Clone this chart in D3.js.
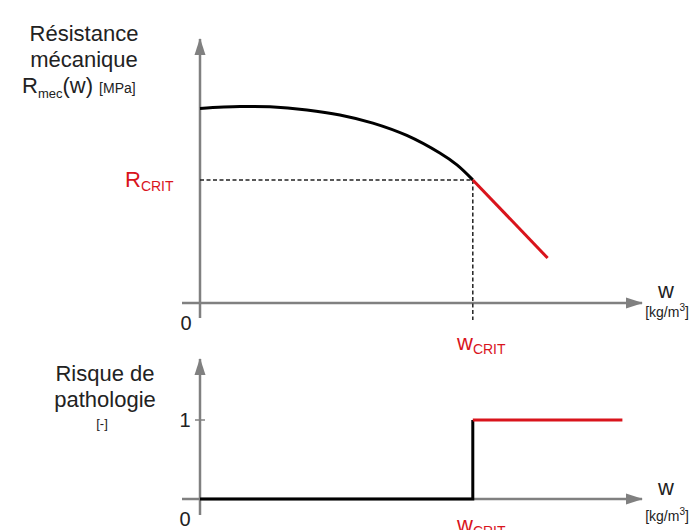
<!DOCTYPE html>
<html>
<head>
<meta charset="utf-8">
<script src="https://cdn.jsdelivr.net/npm/d3@7"></script>
<style>
  body { margin: 0; background: #fff; }
  svg text { font-family: "Liberation Sans", Arial, sans-serif; }
</style>
</head>
<body>
<script>
// values (w and R in arbitrary units)
var curveW = [0, 0.91, 1.59, 2.43, 3.18, 3.93, 4.70, 5.45, 5.84, 6.2]
var curveR = [7.40, 7.47, 7.46, 7.34, 7.15, 6.84, 6.37, 5.70, 5.25, 4.68]
var redW = [6.2, 7.9]
var redR = [4.68, 1.71]
var wCrit = 6.2
var rCrit = 4.68
var riskW = [0, 6.2, 6.2, 9.6]
var riskY = [0, 0, 1, 1]

var width = 697, height = 530
var grey = "#808080", red = "#d9141c", ink = "#222"

var svg = d3.select("body").append("svg")
    .attr("width", width)
    .attr("height", height)

var defs = svg.append("defs")
defs.append("marker")
    .attr("id", "arrow")
    .attr("viewBox", "0 0 17 12")
    .attr("refX", 16).attr("refY", 6)
    .attr("markerWidth", 17).attr("markerHeight", 12)
    .attr("markerUnits", "userSpaceOnUse")
    .attr("orient", "auto")
  .append("path")
    .attr("d", "M0,0.5 L17,6 L0,11.5 Z")
    .attr("fill", grey)

// x scale shared by both panels
var x = d3.scaleLinear().domain([0, 10]).range([200, 640])
var yTop = d3.scaleLinear().domain([0, 10]).range([303, 40])
var yBot = d3.scaleLinear().domain([0, 1]).range([499, 420])

function axes(y0, yTip, yLow) {
    svg.append("line")
        .attr("x1", 182).attr("y1", y0)
        .attr("x2", 642).attr("y2", y0)
        .attr("stroke", grey).attr("stroke-width", 2.5)
        .attr("marker-end", "url(#arrow)")
    svg.append("line")
        .attr("x1", x(0)).attr("y1", yLow)
        .attr("x2", x(0)).attr("y2", yTip)
        .attr("stroke", grey).attr("stroke-width", 2.5)
        .attr("marker-end", "url(#arrow)")
}

// ===== top panel =====
axes(yTop(0), 39, 318)

// dashed guides
svg.append("line")
    .attr("x1", x(0)).attr("y1", yTop(rCrit))
    .attr("x2", x(wCrit)).attr("y2", yTop(rCrit))
    .attr("stroke", "#222").attr("stroke-width", 1.5)
    .attr("stroke-dasharray", "4,2.5")
svg.append("line")
    .attr("x1", x(wCrit)).attr("y1", yTop(rCrit))
    .attr("x2", x(wCrit)).attr("y2", 320)
    .attr("stroke", "#222").attr("stroke-width", 1.5)
    .attr("stroke-dasharray", "4,2.5")

var line = d3.line()
    .x(function(d) { return x(d[0]) })
    .y(function(d) { return yTop(d[1]) })
    .curve(d3.curveCatmullRom.alpha(0.5))

svg.append("path")
    .attr("d", line(d3.zip(curveW, curveR)))
    .attr("fill", "none")
    .attr("stroke", "#000")
    .attr("stroke-width", 3)

svg.append("path")
    .attr("d", d3.line()
        .x(function(d) { return x(d[0]) })
        .y(function(d) { return yTop(d[1]) })(d3.zip(redW, redR)))
    .attr("fill", "none")
    .attr("stroke", red)
    .attr("stroke-width", 3)

// titles
var tTop = svg.append("text").attr("fill", ink).attr("font-size", 22).attr("text-anchor", "middle")
tTop.append("tspan").attr("x", 84).attr("y", 41).text("Résistance")
tTop.append("tspan").attr("x", 84).attr("y", 67).text("mécanique")

var rm = svg.append("text").attr("fill", ink).attr("font-size", 22).attr("x", 22).attr("y", 93)
rm.append("tspan").text("R")
rm.append("tspan").attr("font-size", 13).attr("dy", 5).text("mec")
rm.append("tspan").attr("dy", -5).text("(w) ")
rm.append("tspan").attr("font-size", 14).text("[MPa]")

var rc = svg.append("text").attr("fill", red).attr("font-size", 22).attr("x", 125).attr("y", 187)
rc.append("tspan").text("R")
rc.append("tspan").attr("font-size", 14).attr("dy", 4).text("CRIT")

svg.append("text").attr("fill", ink).attr("font-size", 20)
    .attr("x", 186).attr("y", 330).attr("text-anchor", "middle").text("0")

function wLabel(yw, yu) {
    svg.append("text").attr("fill", ink).attr("font-size", 22)
        .attr("x", 666).attr("y", yw).attr("text-anchor", "middle").text("w")
    var u = svg.append("text").attr("fill", ink).attr("font-size", 14)
        .attr("x", 667).attr("y", yu).attr("text-anchor", "middle")
    u.append("tspan").text("[kg/m")
    u.append("tspan").attr("font-size", 10).attr("dy", -6).text("3")
    u.append("tspan").attr("dy", 6).text("]")
}
function wCritLabel(yb) {
    var t = svg.append("text").attr("fill", red).attr("font-size", 22)
        .attr("x", 457).attr("y", yb)
    t.append("tspan").text("w")
    t.append("tspan").attr("font-size", 14).attr("dy", 4).text("CRIT")
}
wLabel(298, 317)
wCritLabel(350)

// ===== bottom panel =====
axes(yBot(0), 359, 515)

// tick at 1
svg.append("line")
    .attr("x1", x(0) - 5).attr("y1", yBot(1))
    .attr("x2", x(0) + 5).attr("y2", yBot(1))
    .attr("stroke", grey).attr("stroke-width", 1.5)

var step = d3.zip(riskW, riskY)
svg.append("path")
    .attr("d", d3.line()
        .x(function(d) { return x(d[0]) })
        .y(function(d) { return yBot(d[1]) })(step.slice(0, 3)))
    .attr("fill", "none")
    .attr("stroke", "#000")
    .attr("stroke-width", 3)
svg.append("path")
    .attr("d", d3.line()
        .x(function(d) { return x(d[0]) })
        .y(function(d) { return yBot(d[1]) })(step.slice(2)))
    .attr("fill", "none")
    .attr("stroke", red)
    .attr("stroke-width", 3)

var tBot = svg.append("text").attr("fill", ink).attr("font-size", 22).attr("text-anchor", "middle")
tBot.append("tspan").attr("x", 105).attr("y", 381).text("Risque de")
tBot.append("tspan").attr("x", 105).attr("y", 407).text("pathologie")
svg.append("text").attr("fill", ink).attr("font-size", 13)
    .attr("x", 102).attr("y", 428).attr("text-anchor", "middle").text("[-]")

svg.append("text").attr("fill", ink).attr("font-size", 20)
    .attr("x", 185).attr("y", 427).attr("text-anchor", "middle").text("1")
svg.append("text").attr("fill", ink).attr("font-size", 20)
    .attr("x", 185).attr("y", 526).attr("text-anchor", "middle").text("0")

wLabel(495, 521)
wCritLabel(532)
</script>
</body>
</html>
